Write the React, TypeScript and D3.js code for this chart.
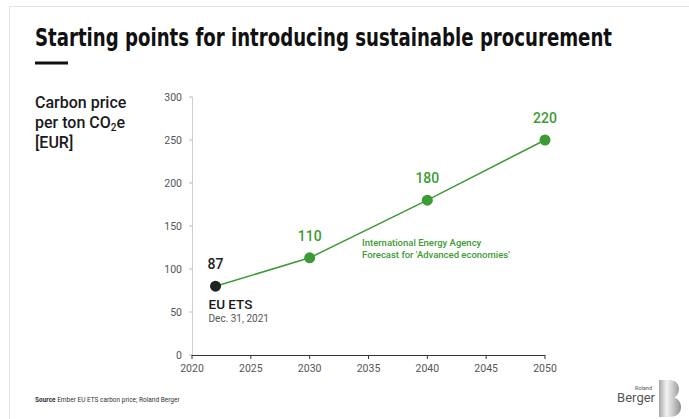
import React from "react";
import * as d3 from "d3";

const years = [2022, 2030, 2040, 2050];
const values = [80, 113, 180, 250];
const valueLabels = ["87", "110", "180", "220"];
const pointColors = ["#222222", "#3d9b35", "#3d9b35", "#3d9b35"];
const xTicks = [2020, 2025, 2030, 2035, 2040, 2045, 2050];
const yTicks = [0, 50, 100, 150, 200, 250, 300];
const titleText = "Starting points for introducing sustainable procurement";
const forecastLines = ["International Energy Agency", "Forecast for 'Advanced economies'"];

const W = 689;
const H = 419;
const GREEN = "#3d9b35";
const FONT = "Roboto, 'Noto Sans', Arial, sans-serif";

export default function App() {
  const x = d3.scaleLinear().domain([2020, 2050]).range([192, 545]);
  const y = d3.scaleLinear().domain([0, 300]).range([355, 97]);
  const pts = years.map((yr, i) => ({ yr, v: values[i], label: valueLabels[i], color: pointColors[i] }));
  const line = d3
    .line<{ yr: number; v: number }>()
    .x((d) => x(d.yr))
    .y((d) => y(d.v));

  return (
    <div style={{ position: "absolute", left: 0, top: 0 }}>
      <svg width={W} height={H} style={{ display: "block", background: "#fff" }}>
        <defs>
          <linearGradient id="bgrad" x1="0" x2="1" y1="0" y2="0">
            <stop offset="0%" stopColor="#a8a8a8" />
            <stop offset="35%" stopColor="#f2f2f2" />
            <stop offset="60%" stopColor="#d0d0d0" />
            <stop offset="100%" stopColor="#8f8f8f" />
          </linearGradient>
        </defs>
        <rect x={9.5} y={6.5} width={700} height={500} fill="none" stroke="#e4e4e4" />
        {/* title */}
        <g transform="translate(35,46) scale(1,1.09)">
          <text
            x={0}
            y={0}
            fontFamily="'DejaVu Sans Condensed', 'DejaVu Sans', sans-serif"
            fontStretch="condensed"
            fontWeight={700}
            fontSize={22}
            fill="#111"
            textLength={577}
            lengthAdjust="spacingAndGlyphs"
          >
            {titleText}
          </text>
        </g>
        <rect x={35} y={61.5} width={33} height={3} fill="#111" />

        {/* y label */}
        <g fontFamily={FONT} fontWeight={500} fontSize={16} fill="#1a1a1a">
          <text x={35} y={108}>Carbon price</text>
          <text x={35} y={128}>
            per ton CO<tspan fontSize={10} dy={3}>2</tspan>
            <tspan dy={-3}>e</tspan>
          </text>
          <text x={35} y={148}>[EUR]</text>
        </g>

        {/* y axis */}
        <line x1={192.5} x2={192.5} y1={y(300)} y2={y(0)} stroke="#cfcfcf" strokeWidth={1} />
        {yTicks.map((t) => (
          <g key={t}>
            <line x1={189} x2={192.5} y1={y(t)} y2={y(t)} stroke="#bdbdbd" />
            <text x={182} y={y(t)} dy="0.35em" textAnchor="end" fontFamily={FONT} fontSize={10.5} fill="#555">
              {t}
            </text>
          </g>
        ))}

        {/* x axis */}
        <line x1={x(2020)} x2={x(2050)} y1={y(0) + 0.5} y2={y(0) + 0.5} stroke="#333" strokeWidth={1} />
        {xTicks.map((t) => (
          <g key={t}>
            <line x1={x(t)} x2={x(t)} y1={y(0)} y2={y(0) + 4} stroke="#333" />
            <text x={x(t)} y={y(0) + 17} textAnchor="middle" fontFamily={FONT} fontSize={10.5} fill="#555">
              {t}
            </text>
          </g>
        ))}

        {/* line */}
        <path d={line(pts) || ""} fill="none" stroke={GREEN} strokeWidth={1.5} />
        {pts.map((p, i) => (
          <g key={i}>
            <circle cx={x(p.yr)} cy={y(p.v)} r={5.5} fill={p.color} />
            <text
              x={x(p.yr)}
              y={y(p.v) - 17}
              textAnchor="middle"
              fontFamily={FONT}
              fontWeight={500}
              fontSize={14}
              fill={p.color}
            >
              {p.label}
            </text>
          </g>
        ))}

        {/* EU ETS annotation */}
        <text x={x(years[0]) - 7} y={309} fontFamily={FONT} fontWeight={500} fontSize={13.5} fill="#1a1a1a">
          EU ETS
        </text>
        <text x={x(years[0]) - 7} y={322} fontFamily={FONT} fontSize={10} fill="#555">
          Dec. 31, 2021
        </text>

        {/* forecast annotation */}
        <g fontFamily={FONT} fontWeight={500} fontSize={9.5} fill={GREEN}>
          {forecastLines.map((l, i) => (
            <text key={i} x={362} y={246 + i * 12}>
              {l}
            </text>
          ))}
        </g>

        {/* source */}
        <text x={35} y={402} fontFamily={FONT} fontSize={6.5} fill="#333">
          <tspan fontWeight={700}>Source</tspan> Ember EU ETS carbon price; Roland Berger
        </text>

        {/* logo */}
        <text x={652} y={390} textAnchor="end" fontFamily={FONT} fontSize={5.5} fill="#555">
          Roland
        </text>
        <text x={655} y={402} textAnchor="end" fontFamily={FONT} fontSize={13} fill="#555">
          Berger
        </text>
        <path
          transform="translate(659,380)"
          d="M0,0 H10 C17,0 20,4 20,9 C20,13 18,16 15.5,17.5 C19.5,19 22,22.5 22,27 C22,33 18,37 10,37 H0 Z"
          fill="url(#bgrad)"
        />
      </svg>
    </div>
  );
}
